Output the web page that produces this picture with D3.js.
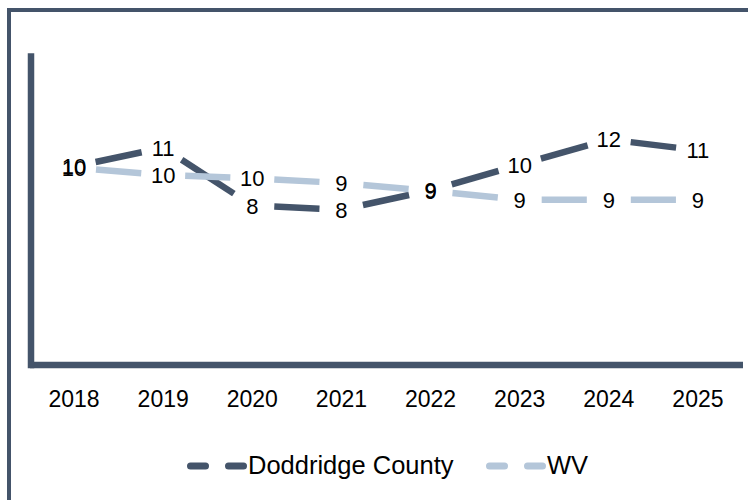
<!DOCTYPE html>
<html>
<head>
<meta charset="utf-8">
<script src="https://cdn.jsdelivr.net/npm/d3@7"></script>
<style>
  html, body { margin: 0; padding: 0; background: #fff; }
  svg { display: block; }
</style>
</head>
<body>
<div id="chart"></div>
<script>
// --------------------
// 1) DATA
// --------------------
const years = ["2018", "2019", "2020", "2021", "2022", "2023", "2024", "2025"];
const doddridge = [10.27, 11.24, 8.24, 8.03, 9.03, 10.36, 11.67, 11.11];
const wv = [10.2, 9.83, 9.66, 9.41, 9.0, 8.55, 8.55, 8.55];
const seriesNames = ["Doddridge County", "WV"];

// --------------------
// 2) BASIC SETUP
// --------------------
const width = 748;
const height = 500;
const dark = "#44546A";
const light = "#B4C6D9";
const font = "'Liberation Sans', Arial, sans-serif";

const series = [
  { name: seriesNames[0], values: doddridge, color: dark },
  { name: seriesNames[1], values: wv, color: light }
];

const svg = d3.select("#chart")
  .append("svg")
  .attr("width", width)
  .attr("height", height);

// outer frame (top and left edges only are visible)
svg.append("line")
  .attr("x1", 7).attr("x2", width).attr("y1", 10).attr("y2", 10)
  .attr("stroke", dark).attr("stroke-width", 4);
svg.append("line")
  .attr("x1", 9).attr("x2", 9).attr("y1", 8).attr("y2", height)
  .attr("stroke", dark).attr("stroke-width", 4);

// scales
const x = d3.scaleBand().domain(years).range([29.5, 742.5]);
const y = d3.scaleLinear().domain([0, 16]).range([364.5, 56]);
const cx = d => x(d) + x.bandwidth() / 2;

// --------------------
// 3) AXES
// --------------------
const xAxis = svg.append("g")
  .attr("transform", `translate(0, ${y(0)})`)
  .call(d3.axisBottom(x).tickSize(0).tickSizeOuter(0).tickPadding(26));
xAxis.select(".domain")
  .attr("stroke", dark).attr("stroke-width", 6.5);
xAxis.selectAll("text")
  .attr("font-family", font).attr("font-size", 23).attr("fill", "#000");

const yAxis = svg.append("g")
  .attr("transform", `translate(30.5, 0)`)
  .call(d3.axisLeft(y).tickValues([]).tickSizeOuter(0));
yAxis.select(".domain")
  .attr("stroke", dark).attr("stroke-width", 6.5)
  .attr("stroke-linecap", "square");

// --------------------
// 4) LINES (segments trimmed around each point)
// --------------------
const gap = 22;
series.forEach(s => {
  const pts = s.values.map((v, i) => [cx(years[i]), y(v)]);
  const segs = d3.pairs(pts).map(([a, b]) => {
    const dx = b[0] - a[0], dy = b[1] - a[1];
    const len = Math.hypot(dx, dy);
    const ux = dx / len, uy = dy / len;
    return [a[0] + ux * gap, a[1] + uy * gap, b[0] - ux * gap, b[1] - uy * gap];
  });
  svg.append("g")
    .selectAll("line")
    .data(segs)
    .enter()
    .append("line")
    .attr("x1", d => d[0]).attr("y1", d => d[1])
    .attr("x2", d => d[2]).attr("y2", d => d[3])
    .attr("stroke", s.color)
    .attr("stroke-width", 6.5);
});

// data labels centered on the points
series.forEach(s => {
  svg.append("g")
    .selectAll("text")
    .data(s.values)
    .enter()
    .append("text")
    .attr("x", (d, i) => cx(years[i]))
    .attr("y", d => y(d))
    .attr("dy", "0.36em")
    .attr("text-anchor", "middle")
    .attr("font-family", font)
    .attr("font-size", 22)
    .attr("fill", "#000")
    .text(d => Math.round(d));
});

// --------------------
// 5) LEGEND
// --------------------
const legendX = [187, 486];
const legend = svg.append("g")
  .selectAll("g")
  .data(series)
  .enter()
  .append("g")
  .attr("transform", (d, i) => `translate(${legendX[i]}, 466)`);

[[0, 22], [38, 60]].forEach(([a, b]) => {
  legend.append("line")
    .attr("x1", a + 3.5).attr("x2", b - 3.5)
    .attr("y1", 0).attr("y2", 0)
    .attr("stroke", d => d.color)
    .attr("stroke-width", 7)
    .attr("stroke-linecap", "round");
});

legend.append("text")
  .attr("x", 61)
  .attr("y", 7.5)
  .attr("font-family", font)
  .attr("font-size", 25.5)
  .attr("fill", "#000")
  .text(d => d.name);
</script>
</body>
</html>
